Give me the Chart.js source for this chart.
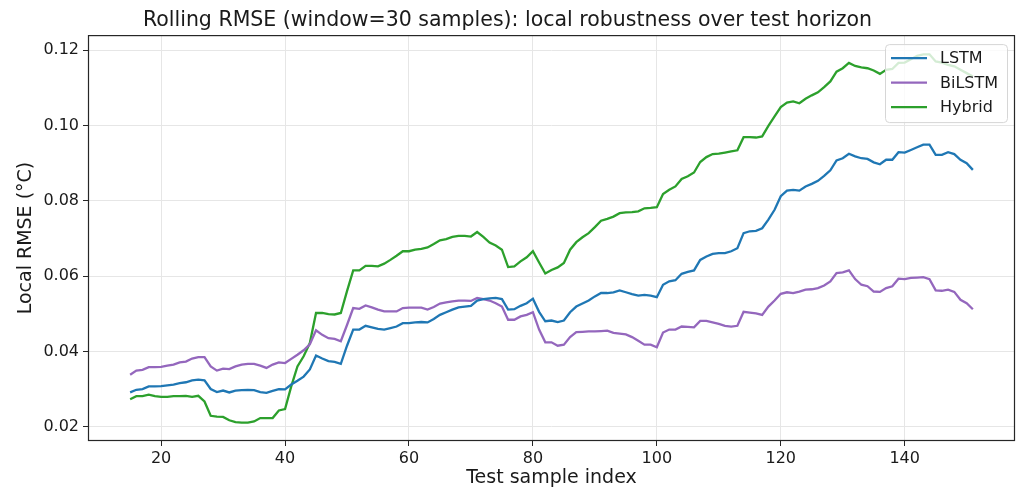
<!DOCTYPE html>
<html>
<head>
<meta charset="utf-8">
<script src="https://cdn.jsdelivr.net/npm/chart.js@4.4.1/dist/chart.umd.min.js"></script>
<style>
  html, body { margin: 0; padding: 0; background: #fff; }
  #wrap { width: 1018px; height: 489px; }
</style>
</head>
<body>
<div id="wrap"><canvas id="rmseChart"></canvas></div>
<script>
// test sample index (x axis)
const sampleIdx = [
  15, 16, 17, 18, 19, 20, 21, 22, 23, 24, 25, 26, 27, 28, 29, 30, 31, 32, 33, 34,
  35, 36, 37, 38, 39, 40, 41, 42, 43, 44, 45, 46, 47, 48, 49, 50, 51, 52, 53, 54,
  55, 56, 57, 58, 59, 60, 61, 62, 63, 64, 65, 66, 67, 68, 69, 70, 71, 72, 73, 74,
  75, 76, 77, 78, 79, 80, 81, 82, 83, 84, 85, 86, 87, 88, 89, 90, 91, 92, 93, 94,
  95, 96, 97, 98, 99, 100, 101, 102, 103, 104, 105, 106, 107, 108, 109, 110, 111, 112, 113, 114,
  115, 116, 117, 118, 119, 120, 121, 122, 123, 124, 125, 126, 127, 128, 129, 130, 131, 132, 133, 134,
  135, 136, 137, 138, 139, 140, 141, 142, 143, 144, 145, 146, 147, 148, 149, 150, 151
];

const lstmRmse = [
  0.0291, 0.0298, 0.0300, 0.0307, 0.0307, 0.0308, 0.0310, 0.0312, 0.0316, 0.0318,
  0.0323, 0.0325, 0.0323, 0.0300, 0.0292, 0.0296, 0.0291, 0.0296, 0.0297, 0.0298,
  0.0297, 0.0292, 0.0290, 0.0295, 0.0300, 0.0299, 0.0312, 0.0322, 0.0333, 0.0352,
  0.0389, 0.0381, 0.0374, 0.0372, 0.0367, 0.0415, 0.0458, 0.0458, 0.0468, 0.0464,
  0.0460, 0.0458, 0.0462, 0.0466, 0.0475, 0.0475, 0.0477, 0.0478, 0.0477, 0.0486,
  0.0497, 0.0504, 0.0511, 0.0517, 0.0519, 0.0521, 0.0535, 0.0539, 0.0541, 0.0542,
  0.0539, 0.0511, 0.0512, 0.0521, 0.0528, 0.0540, 0.0505, 0.0480, 0.0482, 0.0478,
  0.0482, 0.0504, 0.0519, 0.0527, 0.0535, 0.0546, 0.0555, 0.0555, 0.0557, 0.0562,
  0.0557, 0.0552, 0.0548, 0.0550, 0.0548, 0.0544, 0.0577, 0.0586, 0.0589, 0.0606,
  0.0611, 0.0615, 0.0643, 0.0652, 0.0659, 0.0661, 0.0661, 0.0666, 0.0674, 0.0714,
  0.0719, 0.0720, 0.0727, 0.0750, 0.0776, 0.0812, 0.0827, 0.0829, 0.0827, 0.0838,
  0.0845, 0.0853, 0.0866, 0.0881, 0.0907, 0.0913, 0.0925, 0.0918, 0.0913, 0.0911,
  0.0902, 0.0897, 0.0909, 0.0909, 0.0929, 0.0928, 0.0935, 0.0942, 0.0949, 0.0949,
  0.0922, 0.0922, 0.0929, 0.0924, 0.0909, 0.0900, 0.0882
];

const bilstmRmse = [
  0.0338, 0.0349, 0.0351, 0.0358, 0.0358, 0.0359, 0.0362, 0.0365, 0.0371, 0.0373,
  0.0381, 0.0385, 0.0385, 0.0360, 0.0349, 0.0354, 0.0353, 0.0360, 0.0365, 0.0367,
  0.0367, 0.0362, 0.0356, 0.0365, 0.0371, 0.0369, 0.0380, 0.0391, 0.0403, 0.0419,
  0.0456, 0.0444, 0.0435, 0.0433, 0.0427, 0.0470, 0.0515, 0.0513, 0.0522, 0.0517,
  0.0511, 0.0506, 0.0506, 0.0506, 0.0515, 0.0516, 0.0516, 0.0516, 0.0511, 0.0518,
  0.0527, 0.0530, 0.0533, 0.0535, 0.0535, 0.0534, 0.0542, 0.0539, 0.0535, 0.0528,
  0.0519, 0.0484, 0.0484, 0.0493, 0.0497, 0.0504, 0.0458, 0.0424, 0.0424, 0.0415,
  0.0418, 0.0438, 0.0451, 0.0452, 0.0453, 0.0453, 0.0454, 0.0455, 0.0449, 0.0447,
  0.0445, 0.0438, 0.0428, 0.0418, 0.0418, 0.0411, 0.0450, 0.0458, 0.0458, 0.0466,
  0.0465, 0.0464, 0.0481, 0.0481, 0.0477, 0.0473, 0.0468, 0.0466, 0.0468, 0.0505,
  0.0503, 0.0501, 0.0497, 0.0519, 0.0535, 0.0553, 0.0557, 0.0555, 0.0559, 0.0564,
  0.0565, 0.0568, 0.0575, 0.0586, 0.0608, 0.0610, 0.0615, 0.0592, 0.0577, 0.0573,
  0.0559, 0.0558, 0.0568, 0.0573, 0.0593, 0.0592, 0.0595, 0.0596, 0.0597, 0.0592,
  0.0562, 0.0561, 0.0564, 0.0558, 0.0537, 0.0528, 0.0512
];

const hybridRmse = [
  0.0273, 0.0281, 0.0281, 0.0285, 0.0281, 0.0279, 0.0279, 0.0281, 0.0281, 0.0282,
  0.0279, 0.0282, 0.0267, 0.0229, 0.0227, 0.0226, 0.0217, 0.0212, 0.0211, 0.0211,
  0.0214, 0.0223, 0.0223, 0.0223, 0.0243, 0.0247, 0.0307, 0.0360, 0.0387, 0.0422,
  0.0502, 0.0502, 0.0499, 0.0498, 0.0502, 0.0560, 0.0615, 0.0615, 0.0627, 0.0627,
  0.0626, 0.0633, 0.0643, 0.0654, 0.0666, 0.0666, 0.0670, 0.0672, 0.0676, 0.0685,
  0.0695, 0.0698, 0.0704, 0.0707, 0.0707, 0.0705, 0.0717, 0.0704, 0.0689, 0.0681,
  0.0670, 0.0624, 0.0626, 0.0639, 0.0650, 0.0666, 0.0636, 0.0607, 0.0616, 0.0623,
  0.0635, 0.0670, 0.0690, 0.0703, 0.0714, 0.0730, 0.0747, 0.0752, 0.0758, 0.0767,
  0.0769, 0.0770, 0.0772, 0.0780, 0.0781, 0.0783, 0.0818, 0.0829, 0.0838, 0.0858,
  0.0865, 0.0875, 0.0903, 0.0916, 0.0924, 0.0925, 0.0928, 0.0931, 0.0934, 0.0969,
  0.0969, 0.0968, 0.0971, 0.0999, 0.1024, 0.1049, 0.1061, 0.1064, 0.1059, 0.1071,
  0.1080, 0.1088, 0.1102, 0.1117, 0.1143, 0.1152, 0.1166, 0.1158, 0.1154, 0.1152,
  0.1146, 0.1137, 0.1148, 0.1150, 0.1166, 0.1167, 0.1176, 0.1185, 0.1189, 0.1189,
  0.1170, 0.1167, 0.1161, 0.1157, 0.1148, 0.1139, 0.1130
];

const seriesNames = ["LSTM", "BiLSTM", "Hybrid"];
const seriesColors = ["#1f77b4", "#9467bd", "#2ca02c"];
const xTicks = [20, 40, 60, 80, 100, 120, 140];
const yTicks = [0.02, 0.04, 0.06, 0.08, 0.10, 0.12];

const FONT = "'DejaVu Sans', sans-serif";

function toPoints(vals) {
  return vals.map((v, i) => ({ x: sampleIdx[i], y: v }));
}

// all four spines like matplotlib
const framePlugin = {
  id: "frame",
  afterDatasetsDraw(chart) {
    const a = chart.chartArea;
    const c = chart.ctx;
    c.save();
    c.strokeStyle = "#262626";
    c.lineWidth = 1.2;
    c.strokeRect(a.left + 0.5, a.top + 0.5, a.right - a.left - 1, a.bottom - a.top - 1);
    c.restore();
  }
};

// legend box inside the axes, upper right
const boxLegend = {
  id: "boxLegend",
  afterDraw(chart) {
    const a = chart.chartArea;
    const c = chart.ctx;
    const w = 122, h = 78;
    const x0 = a.right - 8 - w, y0 = a.top + 9;
    c.save();
    c.beginPath();
    c.roundRect(x0 + 0.5, y0 + 0.5, w, h, 4);
    c.fillStyle = "rgba(255,255,255,0.8)";
    c.fill();
    c.strokeStyle = "#d6d6d6";
    c.lineWidth = 1;
    c.stroke();
    c.font = "16px " + FONT;
    c.textBaseline = "middle";
    chart.data.datasets.forEach((ds, i) => {
      const y = y0 + 14 + i * 24.5;
      c.strokeStyle = ds.borderColor;
      c.lineWidth = 2.4;
      c.beginPath();
      c.moveTo(x0 + 6, y);
      c.lineTo(x0 + 42, y);
      c.stroke();
      c.fillStyle = "#1a1a1a";
      c.fillText(ds.label, x0 + 55, y + 1);
    });
    c.restore();
  }
};

const ctx = document.getElementById("rmseChart").getContext("2d");
const rmseChart = new Chart(ctx, {
  type: "line",
  data: {
    datasets: [
      { label: seriesNames[0], data: toPoints(lstmRmse), borderColor: seriesColors[0] },
      { label: seriesNames[1], data: toPoints(bilstmRmse), borderColor: seriesColors[1] },
      { label: seriesNames[2], data: toPoints(hybridRmse), borderColor: seriesColors[2] }
    ]
  },
  options: {
    responsive: true,
    maintainAspectRatio: false,
    animation: false,
    layout: { padding: { left: 0, right: 3, top: 0, bottom: 0 } },
    elements: {
      point: { radius: 0 },
      line: { borderWidth: 2.3, tension: 0 }
    },
    plugins: {
      legend: { display: false },
      tooltip: { enabled: false },
      title: {
        display: true,
        text: "Rolling RMSE (window=30 samples): local robustness over test horizon",
        color: "#1a1a1a",
        font: { family: FONT, size: 20.5, weight: "normal" },
        padding: { top: 8.5, bottom: 2 }
      }
    },
    scales: {
      x: {
        type: "linear",
        min: 8.2,
        max: 157.8,
        afterFit(s) { s.height = 48; },
        afterBuildTicks(s) { s.ticks = xTicks.map(v => ({ value: v })); },
        ticks: {
          includeBounds: false,
          color: "#1a1a1a",
          padding: 3,
          font: { family: FONT, size: 16 },
          maxRotation: 0,
          callback: v => String(v)
        },
        grid: { color: "#e6e6e6", tickColor: "#262626", tickLength: 5 },
        border: { display: false },
        title: {
          display: true,
          text: "Test sample index",
          color: "#1a1a1a",
          font: { family: FONT, size: 19 },
          padding: { top: 0, bottom: 0 }
        }
      },
      y: {
        type: "linear",
        min: 0.0162,
        max: 0.1240,
        afterFit(s) { s.width = 88; },
        afterBuildTicks(s) { s.ticks = yTicks.map(v => ({ value: v })); },
        ticks: {
          includeBounds: false,
          color: "#1a1a1a",
          padding: 4,
          font: { family: FONT, size: 16 },
          callback: v => Number(v).toFixed(2)
        },
        grid: { color: "#e6e6e6", tickColor: "#262626", tickLength: 5 },
        border: { display: false },
        title: {
          display: true,
          text: "Local RMSE (°C)",
          color: "#1a1a1a",
          font: { family: FONT, size: 19 },
          padding: { top: 15, bottom: 0 }
        }
      }
    }
  },
  plugins: [framePlugin, boxLegend]
});
</script>
</body>
</html>
